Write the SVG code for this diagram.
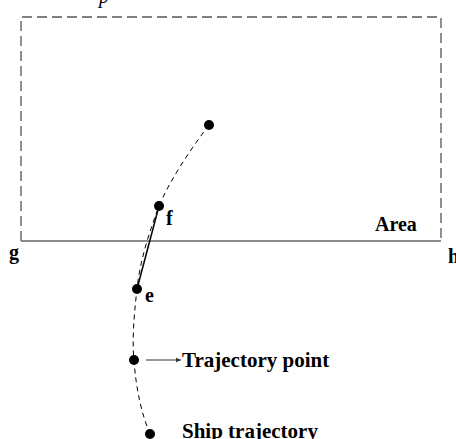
<svg xmlns="http://www.w3.org/2000/svg" width="456" height="439" viewBox="0 0 456 439">
<style>
  .lbl { font-family: "Liberation Serif", "Times New Roman", serif; font-weight: bold; font-size: 20px; fill: #000; }
  .big { font-size: 21px; }
  .pt { fill: #000; }
  .traj { fill: none; stroke: #000; stroke-width: 1; stroke-dasharray: 5 4; }
</style>
<defs>
  <marker id="ah" markerWidth="6" markerHeight="6" refX="5" refY="3" orient="auto" markerUnits="userSpaceOnUse">
    <path d="M0,0.8 L5,3 L0,5.2 Z" fill="#333"/>
  </marker>
</defs>
<text x="99" y="3" style="font-family: 'Liberation Serif', serif; font-style: italic; font-size: 20px;">p</text>
<g id="area">
  <path d="M21,241 L21,17 L441,17 L441,241" fill="none" stroke="#555" stroke-width="1.3" stroke-dasharray="10 5"/>
  <line x1="21" y1="241" x2="441" y2="241" stroke="#666" stroke-width="1.3"/>
  <text class="lbl" x="375" y="231">Area</text>
</g>
<g id="labels-gh">
  <text class="lbl" x="9" y="259">g</text>
  <text class="lbl" x="448" y="263">h</text>
</g>
<g id="connectors">
  <path class="traj" d="M209,125 C190,150 170,180 159,206 C150,230 140,260 137,289 C134,315 132,340 134,360 C136,390 142,415 150,434"/>
  <line x1="159" y1="206" x2="137" y2="289" stroke="#000" stroke-width="1.5"/>
  <line x1="146" y1="360" x2="181" y2="360" stroke="#333" stroke-width="1" marker-end="url(#ah)"/>
</g>
<g id="p1"><circle class="pt" cx="209" cy="125" r="5"/></g>
<g id="pf"><circle class="pt" cx="159" cy="206" r="5"/><text class="lbl" x="166" y="225">f</text></g>
<g id="pe"><circle class="pt" cx="137" cy="289" r="5"/><text class="lbl" x="145" y="302">e</text></g>
<g id="ptraj"><circle class="pt" cx="134" cy="360" r="5"/><text class="lbl big" x="182" y="367">Trajectory point</text></g>
<g id="pship"><circle class="pt" cx="150" cy="434" r="5"/><text class="lbl big" x="182" y="438">Ship trajectory</text></g>
</svg>
